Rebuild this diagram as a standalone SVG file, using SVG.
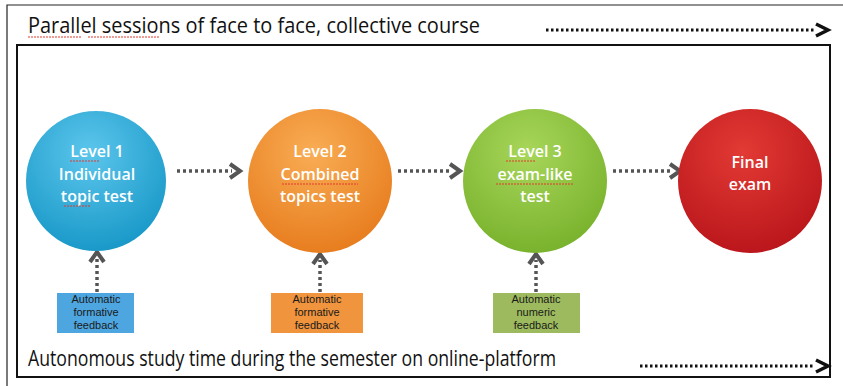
<svg xmlns="http://www.w3.org/2000/svg" width="843" height="386" viewBox="0 0 843 386">
<style>
.frame{fill:none;stroke:#111;stroke-width:2}
.big{font-family:"Open Sans","Liberation Sans",sans-serif;font-size:21px;fill:#111}
.ct{font-family:"Open Sans","DejaVu Sans",sans-serif;font-size:16px;font-weight:600;fill:#fff;text-anchor:middle}
.bt{font-family:"Liberation Sans",Arial,sans-serif;font-size:11px;fill:#1a1a1a;text-anchor:middle}
.dotk{stroke:#111;stroke-width:3;stroke-dasharray:2.5 2.5;fill:none}
.dotg{stroke:#555;stroke-width:3.5;stroke-dasharray:3 3;fill:none}
.chk{fill:none;stroke:#111;stroke-width:3.5;stroke-linejoin:miter}
.chg{fill:none;stroke:#555;stroke-width:4;stroke-linejoin:miter}
.sq{fill:none;stroke:#e03a2f;stroke-width:1;stroke-dasharray:2 1}
</style>
<defs>
<radialGradient id="gb" cx="0.45" cy="0.3" r="0.75"><stop offset="0" stop-color="#5cc6ec"/><stop offset="1" stop-color="#1596c6"/></radialGradient>
<radialGradient id="go" cx="0.45" cy="0.3" r="0.75"><stop offset="0" stop-color="#f9ad55"/><stop offset="1" stop-color="#e67a1b"/></radialGradient>
<radialGradient id="gg" cx="0.45" cy="0.3" r="0.75"><stop offset="0" stop-color="#a8d65a"/><stop offset="1" stop-color="#76b02a"/></radialGradient>
<radialGradient id="gr" cx="0.45" cy="0.3" r="0.75"><stop offset="0" stop-color="#e23a34"/><stop offset="1" stop-color="#b8141a"/></radialGradient>
</defs>
<rect width="843" height="386" fill="#fff"/>
<path d="M7 386 V5 H843" fill="none" stroke="#222" stroke-width="1.2"/>
<rect class="frame" x="17" y="45" width="813" height="332"/>

<g id="top-label">
<text class="big" x="28" y="33" textLength="452" lengthAdjust="spacingAndGlyphs">Parallel sessions of face to face, collective course</text>
<path class="sq" d="M28 37 H82 M88 37 H160"/>
</g>
<g id="bottom-label">
<text class="big" x="28" y="366" textLength="528" lengthAdjust="spacingAndGlyphs">Autonomous study time during the semester on online-platform</text>
</g>

<g id="connectors">
<path class="dotk" d="M546 30 H815"/>
<path class="chk" d="M816 24 L828 30 L816 36"/>
<path class="dotk" d="M640 366 H815"/>
<path class="chk" d="M816 360 L828 366 L816 372"/>
<path class="dotg" d="M177 171 H232"/>
<path class="chg" d="M230 164 L240 171 L230 178"/>
<path class="dotg" d="M398 171 H452"/>
<path class="chg" d="M450 164 L460 171 L450 178"/>
<path class="dotg" d="M613 171 H672"/>
<path class="chg" d="M670 164 L680 171 L670 178"/>
<path class="dotg" d="M97 292 V258"/>
<path class="chg" d="M90 262 L97 252 L104 262"/>
<path class="dotg" d="M320 292 V260"/>
<path class="chg" d="M313 264 L320 254 L327 264"/>
<path class="dotg" d="M536 292 V260"/>
<path class="chg" d="M529 264 L536 254 L543 264"/>
</g>

<g id="level1">
<circle cx="96" cy="181" r="70" fill="url(#gb)"/>
<text class="ct"><tspan x="97" y="157">Level 1</tspan><tspan x="97" y="180">Individual</tspan><tspan x="97" y="202">topic test</tspan></text>
<path class="sq" d="M70 161 H99 M64 206 H90"/>
</g>
<g id="level2">
<circle cx="320" cy="181" r="72" fill="url(#go)"/>
<text class="ct"><tspan x="320" y="157">Level 2</tspan><tspan x="320" y="180">Combined</tspan><tspan x="320" y="202">topics test</tspan></text>
<path class="sq" d="M282 184 H358"/>
</g>
<g id="level3">
<circle cx="535" cy="181" r="72" fill="url(#gg)"/>
<text class="ct"><tspan x="535" y="157">Level 3</tspan><tspan x="535" y="180">exam-like</tspan><tspan x="535" y="202">test</tspan></text>
<path class="sq" d="M506 161 H536 M496 184 H574"/>
</g>
<g id="final">
<circle cx="750" cy="181" r="72" fill="url(#gr)"/>
<text class="ct"><tspan x="750" y="168">Final</tspan><tspan x="750" y="190">exam</tspan></text>
</g>

<g id="fb1">
<rect x="57" y="293" width="77" height="40" fill="#4ea6e0"/>
<text class="bt"><tspan x="96" y="303">Automatic</tspan><tspan x="96" y="316">formative</tspan><tspan x="96" y="329">feedback</tspan></text>
</g>
<g id="fb2">
<rect x="271" y="293" width="92" height="40" fill="#f0943e"/>
<text class="bt"><tspan x="317" y="303">Automatic</tspan><tspan x="317" y="316">formative</tspan><tspan x="317" y="329">feedback</tspan></text>
</g>
<g id="fb3">
<rect x="493" y="293" width="87" height="40" fill="#9dbb5e"/>
<text class="bt"><tspan x="536" y="303">Automatic</tspan><tspan x="536" y="316">numeric</tspan><tspan x="536" y="329">feedback</tspan></text>
</g>
</svg>
